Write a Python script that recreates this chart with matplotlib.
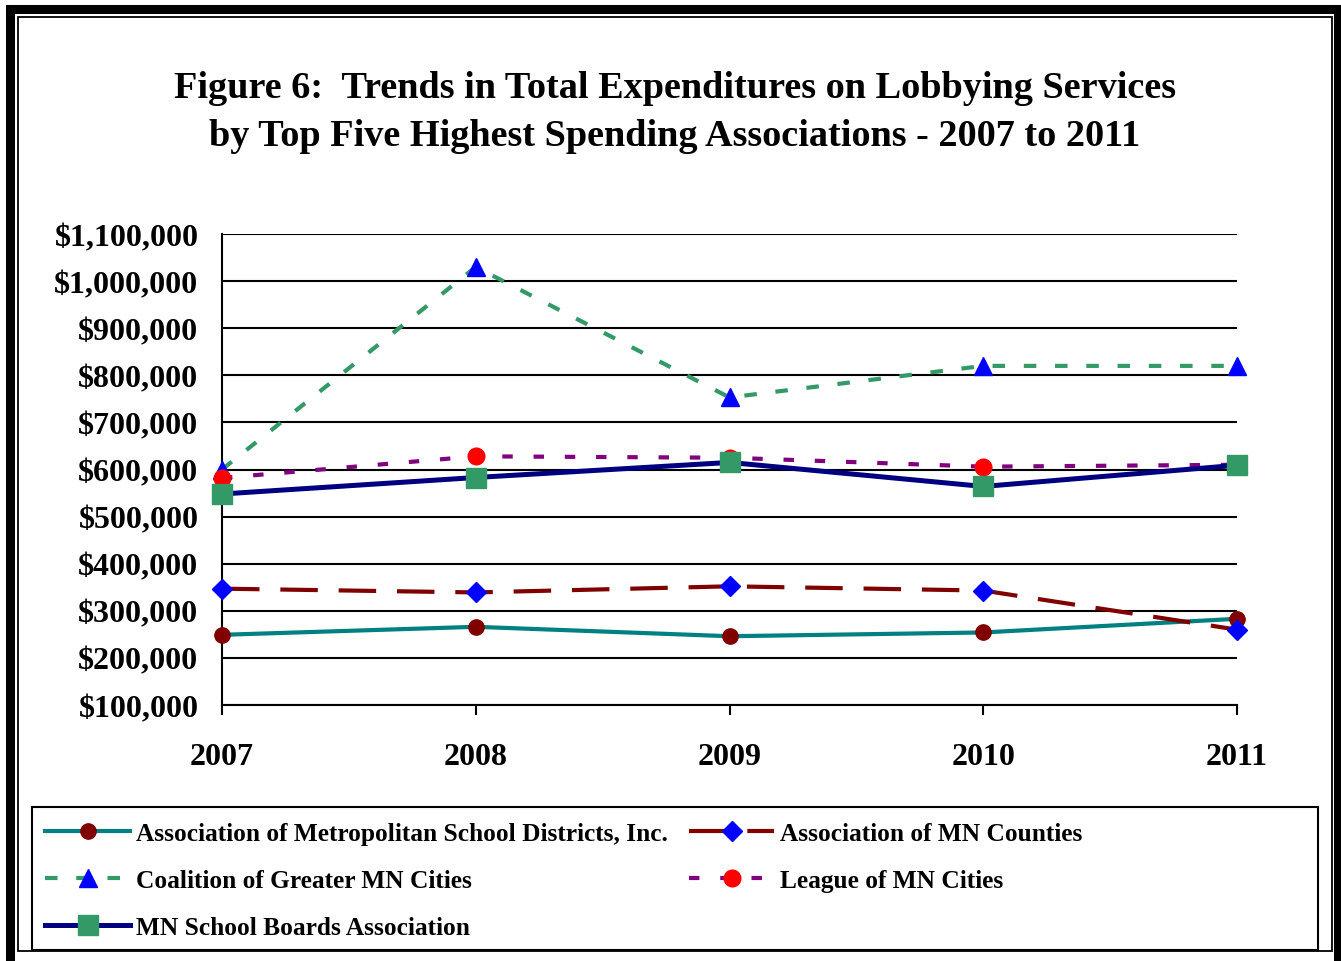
"""Figure 6: lobbying expenditures of top five associations, 2007-2011."""
import matplotlib
matplotlib.use("Agg")
from matplotlib import pyplot as plt
from matplotlib.patches import Rectangle
from matplotlib.ticker import FuncFormatter

plt.rcParams["font.family"] = ["Liberation Serif", "DejaVu Serif"]
plt.rcParams["font.weight"] = "bold"

years = [2007, 2008, 2009, 2010, 2011]
amsd = [249000, 266000, 246000, 254000, 283000]
counties = [347000, 339000, 352000, 343000, 260000]
coalition = [600000, 1030000, 753000, 820000, 820000]
league = [582000, 628000, 625000, 606000, 610000]
msba = [548000, 583000, 615000, 564000, 609000]

names = ["Association of Metropolitan School Districts, Inc.",
         "Association of MN Counties",
         "Coalition of Greater MN Cities",
         "League of MN Cities",
         "MN School Boards Association"]

W, H = 1341, 962
fig = plt.figure(figsize=(W / 100, H / 100), dpi=100)

# double frame round the whole picture
fig.patches.append(Rectangle((10 / W, -0.05), (1338 - 10) / W, 1.05 - 10 / H,
                             transform=fig.transFigure, fill=False,
                             edgecolor="black", linewidth=6.5))
fig.patches.append(Rectangle((18 / W, 1 - 952 / H), (1332 - 18) / W, (952 - 18) / H,
                             transform=fig.transFigure, fill=False,
                             edgecolor="black", linewidth=1.3))
# legend box
fig.patches.append(Rectangle((32 / W, 1 - 951 / H), (1318 - 32) / W, (951 - 808) / H,
                             transform=fig.transFigure, fill=False,
                             edgecolor="black", linewidth=1.5))

fig.text(0.503, 1 - 88 / H, "Figure 6:  Trends in Total Expenditures on Lobbying Services",
         ha="center", va="center", fontsize=27.5, fontweight="bold")
fig.text(0.503, 1 - 137 / H, "by Top Five Highest Spending Associations - 2007 to 2011",
         ha="center", va="center", fontsize=27.5, fontweight="bold")

ax = fig.add_axes([222 / W, 1 - 706 / H, (1237 - 222) / W, (706 - 235) / H])

lw = 3.0
h_amsd, = ax.plot(years, amsd, color="#008080", lw=lw, marker="o", ms=11,
                  mfc="#800000", mec="#800000", clip_on=False, zorder=3)
h_cnt, = ax.plot(years, counties, color="#800000", lw=lw, dashes=(9, 5),
                 marker="D", ms=10, mfc="#0000ff", mec="#0000ff",
                 clip_on=False, zorder=3)
h_coal, = ax.plot(years, coalition, color="#339966", lw=lw, dashes=(3, 4.5),
                  marker="^", ms=13, mfc="#0000ff", mec="#0000ff",
                  clip_on=False, zorder=3)
h_lg, = ax.plot(years, league, color="#800080", lw=lw, dashes=(2.5, 5),
                marker="o", ms=12, mfc="#ff0000", mec="#ff0000",
                clip_on=False, zorder=3)
h_msba, = ax.plot(years, msba, color="#000080", lw=3.6, marker="s", ms=14,
                  mfc="#339966", mec="#339966", clip_on=False, zorder=3)

ax.set_xlim(2007, 2011)
ax.set_ylim(100000, 1100000)
ax.set_xticks(years)
ax.set_yticks(range(100000, 1100001, 100000))
ax.yaxis.set_major_formatter(FuncFormatter(lambda v, p: "${:,.0f}".format(v)))
ax.grid(axis="y", color="black", lw=1.5, zorder=1)
ax.grid(axis="x", visible=False)
for s in ["top", "right"]:
    ax.spines[s].set_visible(False)
ax.spines["left"].set_linewidth(1.5)
ax.spines["bottom"].set_linewidth(1.5)
ax.tick_params(axis="y", length=0, pad=17, labelsize=23)
ax.tick_params(axis="x", length=7, width=1.5, direction="out", pad=20, labelsize=23)
for lab in ax.get_xticklabels() + ax.get_yticklabels():
    lab.set_fontweight("bold")

handles = [h_amsd, h_coal, h_msba, h_cnt, h_lg]
labels = [names[0], names[2], names[4], names[1], names[3]]
leg = fig.legend(handles, labels, ncol=2, loc="upper left",
                 bbox_to_anchor=(45 / W, 1 - 823 / H),
                 frameon=False, prop={"size": 18.3, "weight": "bold"},
                 handlelength=3.35, handletextpad=0.24, labelspacing=0.95,
                 borderaxespad=0, columnspacing=0.83, borderpad=0)

fig.savefig("out.png", dpi=100)
